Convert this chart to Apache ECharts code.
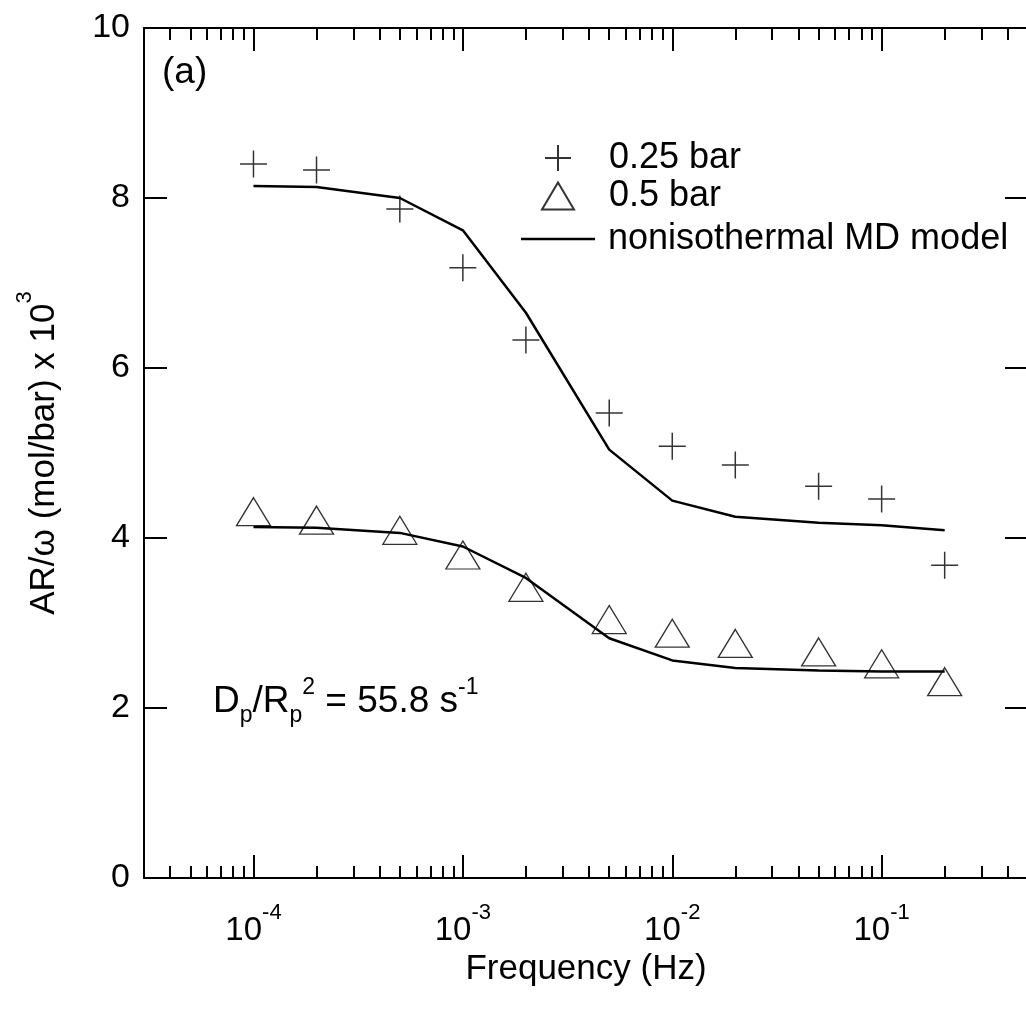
<!DOCTYPE html>
<html><head><meta charset="utf-8">
<script src="https://cdn.jsdelivr.net/npm/echarts@6/dist/echarts.min.js"></script>
<style>html,body{margin:0;padding:0;background:#fff}#c{width:1026px;height:1023px}</style>
</head><body><div id="c"></div>
<script>
// ---- data ----
const freq = [1e-4, 2e-4, 5e-4, 1e-3, 2e-3, 5e-3, 1e-2, 2e-2, 5e-2, 1e-1, 2e-1];
const bar025 = [8.40, 8.33, 7.87, 7.18, 6.33, 5.47, 5.08, 4.86, 4.61, 4.46, 3.68];
const bar05 = [4.31, 4.21, 4.09, 3.80, 3.42, 3.04, 2.88, 2.76, 2.66, 2.52, 2.31];
const model025 = [8.14, 8.13, 8.00, 7.62, 6.65, 5.04, 4.44, 4.25, 4.18, 4.15, 4.09];
const model05 = [4.13, 4.12, 4.06, 3.90, 3.53, 2.82, 2.56, 2.47, 2.44, 2.43, 2.43];
const majorTicks = [1e-4, 1e-3, 1e-2, 1e-1];
const minorTicks = [4e-5, 5e-5, 6e-5, 7e-5, 8e-5, 9e-5,
  2e-4, 3e-4, 4e-4, 5e-4, 6e-4, 7e-4, 8e-4, 9e-4,
  2e-3, 3e-3, 4e-3, 5e-3, 6e-3, 7e-3, 8e-3, 9e-3,
  2e-2, 3e-2, 4e-2, 5e-2, 6e-2, 7e-2, 8e-2, 9e-2,
  2e-1, 3e-1, 4e-1];
const yTicks = [0, 2, 4, 6, 8, 10];
const seriesNames = ['0.25 bar', '0.5 bar', 'nonisothermal MD model'];

const FONT = '"Liberation Sans", Arial, Helvetica, sans-serif';
const XMIN = 3e-5, XMAX = 0.5;
const lg = v => Math.log10(v);
const BLACK = '#000';

function tickAxis(position, values, len, withLabels) {
  return {
    type: 'value', gridIndex: 0, position: position,
    min: lg(XMIN), max: lg(XMAX),
    axisLine: { show: false },
    splitLine: { show: false },
    axisTick: { show: true, inside: true, length: len, customValues: values.map(lg),
      lineStyle: { color: BLACK, width: 2 } },
    axisLabel: withLabels ? {
      show: true, customValues: values.map(lg), margin: 24,
      formatter: v => '{b|10}{s|' + Math.round(v) + '}',
      rich: {
        b: { fontFamily: FONT, fontSize: 33, color: BLACK },
        s: { fontFamily: FONT, fontSize: 22, color: BLACK, padding: [0, 0, 36, 0] }
      }
    } : { show: false }
  };
}

function legendBox(name, left, top, w, h, pad, icon) {
  const item = icon ? { name: name, icon: icon } : { name: name };
  return {
    orient: 'vertical', left: left, top: top, padding: 0,
    itemWidth: w, itemHeight: h, selectedMode: false,
    data: [item],
    textStyle: { fontFamily: FONT, fontSize: 36, color: BLACK, padding: [0, 0, 0, pad] }
  };
}

const PLUS = 'path://M0,10L20,10M10,0L10,20';

const chart = echarts.init(document.getElementById('c'), null, { renderer: 'canvas' });
chart.setOption({
  animation: false,
  backgroundColor: '#fff',
  grid: { left: 144, top: 28, width: 884, height: 850, containLabel: false, outerBoundsMode: 'none' },
  legend: [
    legendBox(seriesNames[0], 544, 140, 26, 26, 33),
    legendBox(seriesNames[1], 541, 178, 32, 27, 30),
    legendBox(seriesNames[2], 521, 221, 74, 2.5, 8, 'rect')
  ],
  xAxis: [
    {
      type: 'log', logBase: 10, min: XMIN, max: XMAX, position: 'bottom',
      axisLine: { show: true, lineStyle: { color: BLACK, width: 2 } },
      axisTick: { show: false }, axisLabel: { show: false },
      splitLine: { show: false }, minorTick: { show: false }, minorSplitLine: { show: false },
      name: 'Frequency (Hz)', nameLocation: 'middle', nameGap: 74,
      nameTextStyle: { fontFamily: FONT, fontSize: 35, color: BLACK }
    },
    tickAxis('bottom', majorTicks, 23, true),
    tickAxis('bottom', minorTicks, 12, false),
    Object.assign(tickAxis('top', majorTicks, 23, false), { axisLine: { show: true, lineStyle: { color: BLACK, width: 2 } } }),
    tickAxis('top', minorTicks, 12, false)
  ],
  yAxis: [
    {
      type: 'value', position: 'left', min: 0, max: 10, interval: 2,
      axisLine: { show: true, lineStyle: { color: BLACK, width: 2 } },
      axisTick: { show: true, inside: true, length: 23, lineStyle: { color: BLACK, width: 2 } },
      axisLabel: { show: true, margin: 14, fontFamily: FONT, fontSize: 34, color: BLACK,
        customValues: yTicks },
      splitLine: { show: false },
      name: '{m|AR/ω (mol/bar) x 10}{s|3}', nameLocation: 'middle', nameGap: 70,
      nameTextStyle: {
        rich: {
          m: { fontFamily: FONT, fontSize: 35, color: BLACK },
          s: { fontFamily: FONT, fontSize: 22, color: BLACK, padding: [0, 0, 38, 0] }
        }
      }
    },
    {
      type: 'value', position: 'right', min: 0, max: 10, interval: 2,
      axisLine: { show: true, lineStyle: { color: BLACK, width: 2 } },
      axisTick: { show: true, inside: true, length: 23, lineStyle: { color: BLACK, width: 2 } },
      axisLabel: { show: false }, splitLine: { show: false }
    }
  ],
  series: [
    {
      name: seriesNames[0], type: 'scatter', xAxisIndex: 0, yAxisIndex: 0, z: 4,
      symbol: PLUS, symbolSize: 27, symbolKeepAspect: true,
      itemStyle: { color: 'rgba(0,0,0,0)', borderColor: BLACK, borderWidth: 1.5 },
      data: freq.map((f, i) => [f, bar025[i]])
    },
    {
      name: seriesNames[1], type: 'scatter', xAxisIndex: 0, yAxisIndex: 0, z: 4,
      symbol: 'triangle', symbolSize: [34, 28],
      itemStyle: { color: 'rgba(0,0,0,0)', borderColor: BLACK, borderWidth: 1.3 },
      data: freq.map((f, i) => [f, bar05[i]])
    },
    {
      name: seriesNames[2], type: 'line', xAxisIndex: 0, yAxisIndex: 0, z: 3,
      symbol: 'none', showSymbol: false,
      lineStyle: { color: BLACK, width: 2.5 }, itemStyle: { color: BLACK },
      data: freq.map((f, i) => [f, model025[i]])
    },
    {
      name: seriesNames[2], type: 'line', xAxisIndex: 0, yAxisIndex: 0, z: 3,
      symbol: 'none', showSymbol: false,
      lineStyle: { color: BLACK, width: 2.5 }, itemStyle: { color: BLACK },
      data: freq.map((f, i) => [f, model05[i]])
    }
  ],
  graphic: [
    { type: 'text', left: 162, top: 54,
      style: { text: '(a)', font: '37px ' + FONT, fill: BLACK } },
    { type: 'text', left: 213, top: 676,
      style: {
        text: '{m|D}{sub|p}{m|/R}{sub|p}{sup|2}{m| = 55.8 s}{sup|-1}',
        rich: {
          m: { fontFamily: FONT, fontSize: 37, fill: BLACK },
          sub: { fontFamily: FONT, fontSize: 23, fill: BLACK, padding: [28, 0, 0, 0] },
          sup: { fontFamily: FONT, fontSize: 23, fill: BLACK, padding: [0, 0, 28, 0] }
        }
      } }
  ]
});
</script>
</body></html>
